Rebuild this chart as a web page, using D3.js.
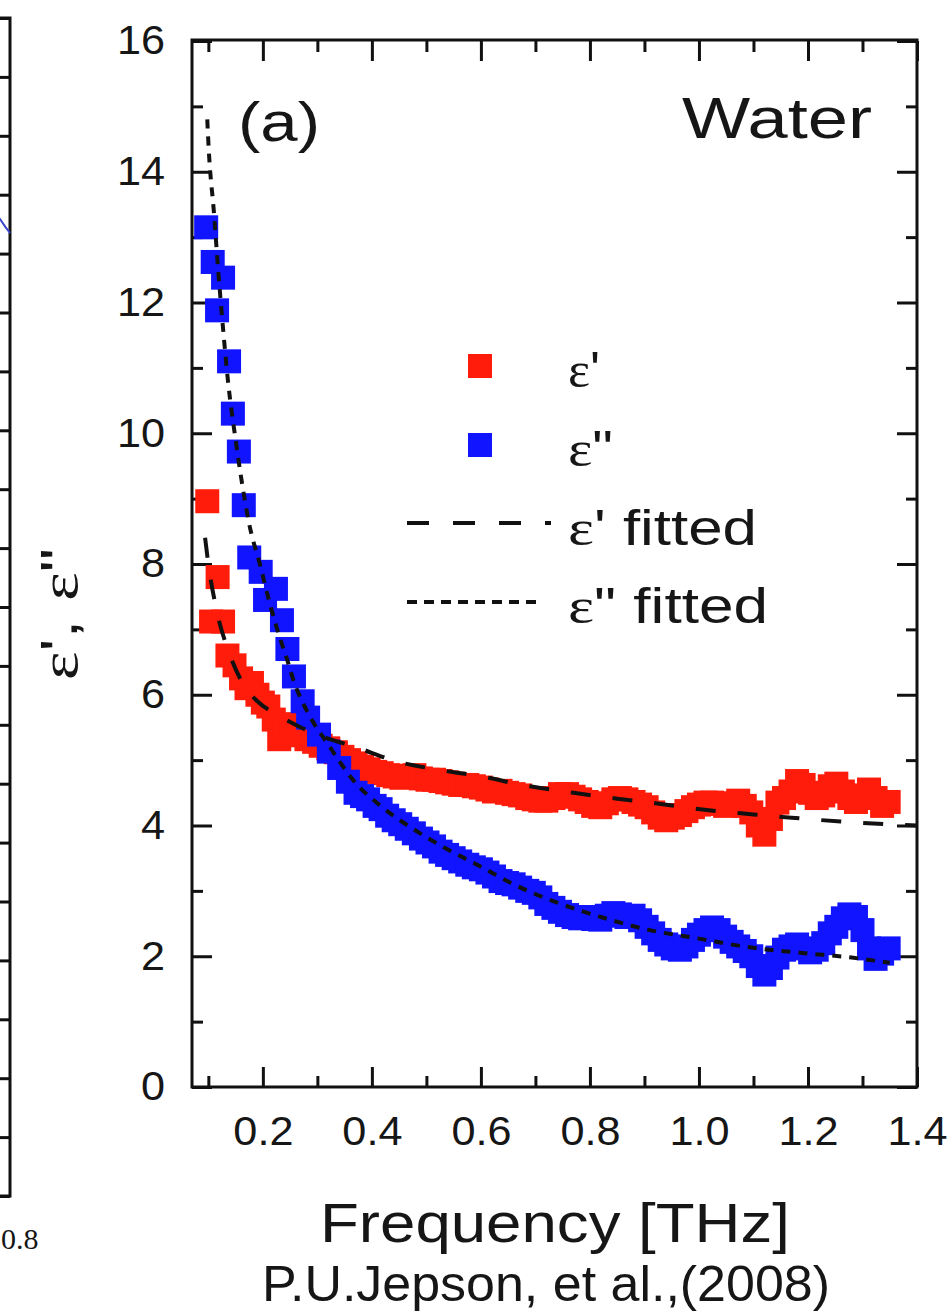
<!DOCTYPE html>
<html>
<head>
<meta charset="utf-8">
<script src="https://cdn.jsdelivr.net/npm/d3@7"></script>
<style>
  body { margin: 0; background: #fff; }
  text { font-family: "Liberation Sans", Arial, sans-serif; fill: #161616; }
  .serif { font-family: "Liberation Serif", "Times New Roman", serif; }
</style>
</head>
<body>
<svg id="chart" width="952" height="1314"></svg>
<script>
// measured points [frequency THz, value]
var epsRealPoints = [[0.098,8.96],[0.117,7.8],[0.105,7.12],[0.127,7.12],[0.135,6.6],[0.148,6.45],[0.16,6.25],[0.17,6.1],[0.18,6.18],[0.19,6.0],[0.2,5.88],[0.21,5.82],[0.22,5.62],[0.23,5.32],[0.24,5.55],[0.252,5.45],[0.266,5.38],[0.28,5.32],[0.294,5.28],[0.306,5.22],[0.32,5.18],[0.334,5.12],[0.346,5.05],[0.358,5.0],[0.37,4.95],[0.382,4.9],[0.394,4.86],[0.406,4.82],[0.418,4.8],[0.43,4.77],[0.442,4.75],[0.454,4.73],[0.466,4.76],[0.478,4.77],[0.49,4.72],[0.502,4.7],[0.514,4.7],[0.526,4.68],[0.538,4.66],[0.55,4.64],[0.562,4.62],[0.575,4.62],[0.587,4.6],[0.6,4.58],[0.612,4.55],[0.624,4.52],[0.636,4.53],[0.648,4.5],[0.66,4.48],[0.672,4.46],[0.685,4.42],[0.697,4.4],[0.709,4.38],[0.72,4.38],[0.733,4.42],[0.745,4.48],[0.758,4.48],[0.77,4.44],[0.782,4.4],[0.794,4.36],[0.806,4.3],[0.819,4.28],[0.831,4.34],[0.843,4.4],[0.855,4.42],[0.867,4.4],[0.88,4.36],[0.892,4.32],[0.904,4.28],[0.916,4.2],[0.928,4.12],[0.94,4.08],[0.952,4.12],[0.965,4.16],[0.977,4.22],[0.989,4.28],[1.0,4.32],[1.012,4.35],[1.024,4.35],[1.036,4.33],[1.048,4.3],[1.06,4.34],[1.072,4.38],[1.084,4.3],[1.096,4.2],[1.108,4.0],[1.12,3.86],[1.132,4.1],[1.144,4.35],[1.156,4.42],[1.168,4.52],[1.18,4.68],[1.192,4.62],[1.204,4.5],[1.216,4.42],[1.228,4.46],[1.24,4.6],[1.252,4.64],[1.264,4.52],[1.276,4.42],[1.288,4.36],[1.3,4.46],[1.312,4.55],[1.324,4.42],[1.336,4.3],[1.348,4.36]];

var epsLossPoints = [[0.096,13.15],[0.108,12.62],[0.127,12.38],[0.116,11.88],[0.138,11.1],[0.145,10.3],[0.156,9.72],[0.165,8.9],[0.175,8.1],[0.196,7.88],[0.204,7.45],[0.224,7.62],[0.235,7.14],[0.245,6.7],[0.257,6.28],[0.273,5.9],[0.283,5.65],[0.303,5.39],[0.321,5.13],[0.34,4.88],[0.356,4.67],[0.37,4.5],[0.382,4.45],[0.393,4.4],[0.405,4.3],[0.416,4.25],[0.428,4.15],[0.44,4.08],[0.452,4.02],[0.464,3.95],[0.477,3.88],[0.49,3.8],[0.502,3.74],[0.514,3.68],[0.526,3.6],[0.538,3.55],[0.55,3.5],[0.562,3.45],[0.575,3.4],[0.587,3.36],[0.6,3.33],[0.612,3.28],[0.624,3.22],[0.636,3.15],[0.648,3.12],[0.66,3.1],[0.672,3.05],[0.685,3.0],[0.697,2.97],[0.709,2.9],[0.72,2.8],[0.733,2.74],[0.745,2.68],[0.758,2.63],[0.77,2.6],[0.782,2.58],[0.794,2.6],[0.806,2.57],[0.819,2.56],[0.831,2.62],[0.843,2.66],[0.855,2.64],[0.867,2.6],[0.88,2.62],[0.892,2.55],[0.904,2.45],[0.916,2.35],[0.928,2.25],[0.94,2.18],[0.952,2.12],[0.965,2.1],[0.977,2.15],[0.989,2.25],[1.0,2.33],[1.012,2.4],[1.024,2.44],[1.036,2.4],[1.048,2.3],[1.06,2.22],[1.072,2.15],[1.084,2.08],[1.096,2.0],[1.108,1.85],[1.12,1.72],[1.132,1.82],[1.144,1.98],[1.156,2.1],[1.168,2.15],[1.18,2.18],[1.192,2.12],[1.204,2.06],[1.216,2.1],[1.228,2.2],[1.24,2.35],[1.252,2.45],[1.264,2.58],[1.276,2.64],[1.288,2.6],[1.3,2.4],[1.312,2.12],[1.324,1.96],[1.336,2.04],[1.348,2.12]];

// fitted curves
var fitRealPoints = [[0.094,8.4],[0.1,8.0],[0.115,7.3],[0.14,6.6],[0.165,6.15],[0.19,5.9],[0.23,5.68],[0.27,5.5],[0.32,5.33],[0.37,5.2],[0.45,4.97],[0.51,4.87],[0.6,4.75],[0.69,4.6],[0.77,4.5],[0.85,4.41],[0.93,4.33],[1.01,4.24],[1.1,4.17],[1.17,4.12],[1.26,4.06],[1.4,4.0]];
var fitLossPoints = [[0.098,14.8],[0.101,14.3],[0.11,13.4],[0.118,12.5],[0.127,11.6],[0.136,10.8],[0.15,9.9],[0.16,9.33],[0.174,8.65],[0.196,7.95],[0.211,7.45],[0.23,6.9],[0.246,6.5],[0.257,6.2],[0.275,5.85],[0.293,5.57],[0.319,5.25],[0.343,4.95],[0.367,4.68],[0.416,4.3],[0.477,3.94],[0.54,3.63],[0.6,3.37],[0.66,3.1],[0.74,2.82],[0.82,2.6],[0.91,2.4],[1.0,2.27],[1.09,2.14],[1.19,2.05],[1.28,1.98],[1.35,1.9]];

var xMajor = [0.2, 0.4, 0.6, 0.8, 1.0, 1.2, 1.4];
var xMinor = [0.1, 0.3, 0.5, 0.7, 0.9, 1.1, 1.3];
var yMajor = [0, 2, 4, 6, 8, 10, 12, 14, 16];
var yMinor = [1, 3, 5, 7, 9, 11, 13, 15];

// cut-off neighbour panel on the left edge
var neighborTicks = d3.range(0, 21);
var neighborCurve = [[0.793, 16.6], [0.797, 16.45], [0.8, 16.35]];

var red = '#ff1c0a', blue = '#1014ff';

var svg = d3.select('#chart');
svg.append('rect').attr('width', 952).attr('height', 1314).attr('fill', '#fff');

var x = d3.scaleLinear().domain([0.07, 1.4]).range([192, 917]);
var y = d3.scaleLinear().domain([0, 16]).range([1087, 41]);

function stretch(sel, k) {
  sel.each(function() {
    var w = this.getComputedTextLength();
    this.setAttribute('textLength', w * k);
    this.setAttribute('lengthAdjust', 'spacingAndGlyphs');
  });
}
function styleAxis(g) {
  g.select('.domain').remove();
  g.selectAll('line').attr('stroke', '#111').attr('stroke-width', 3);
  g.selectAll('text').attr('font-size', 40).attr('font-family', '"Liberation Sans", Arial, sans-serif').attr('fill', '#161616');
}

// neighbour panel bits
var ny = d3.scaleLinear().domain([0, 20]).range([1196, 18]);
var nx = d3.scaleLinear().domain([0.7, 0.8]).range([-140, 10]);
svg.append('g').attr('transform', 'translate(10,0)')
  .call(d3.axisLeft(ny).tickValues(neighborTicks).tickSize(14).tickFormat(''))
  .call(function(g) {
    g.select('.domain').remove();
    g.selectAll('line').attr('stroke', '#111').attr('stroke-width', 3);
  });
svg.append('path')
  .attr('d', 'M0,' + ny(20) + 'H' + nx(0.8) + 'V' + ny(0) + 'H0')
  .attr('fill', 'none').attr('stroke', '#111').attr('stroke-width', 3);
svg.append('path').datum(neighborCurve)
  .attr('d', d3.line().x(function(d) { return nx(d[0]); }).y(function(d) { return ny(d[1]); }))
  .attr('fill', 'none').attr('stroke', '#3a46d0').attr('stroke-width', 2);
svg.append('text').attr('class', 'serif')
  .attr('x', 1).attr('y', 1249).attr('text-anchor', 'start')
  .attr('font-size', 30).text('0.8');

// axes, ticks pointing inward
var gBottom = svg.append('g').attr('transform', 'translate(0,' + y(0) + ')')
  .call(d3.axisBottom(x).tickValues(xMajor).tickSize(-20).tickPadding(30).tickFormat(d3.format('.1f')));
styleAxis(gBottom);
stretch(gBottom.selectAll('text'), 1.08);
svg.append('g').attr('transform', 'translate(0,' + y(0) + ')')
  .call(d3.axisBottom(x).tickValues(xMinor).tickSize(-11).tickFormat('')).call(styleAxis);
svg.append('g').attr('transform', 'translate(0,' + y(16) + ')')
  .call(d3.axisTop(x).tickValues(xMajor).tickSize(-20).tickFormat('')).call(styleAxis);
svg.append('g').attr('transform', 'translate(0,' + y(16) + ')')
  .call(d3.axisTop(x).tickValues(xMinor).tickSize(-11).tickFormat('')).call(styleAxis);

var gLeft = svg.append('g').attr('transform', 'translate(' + x(0.07) + ',0)')
  .call(d3.axisLeft(y).tickValues(yMajor).tickSize(-20).tickPadding(27));
styleAxis(gLeft);
stretch(gLeft.selectAll('text'), 1.08);
svg.append('g').attr('transform', 'translate(' + x(0.07) + ',0)')
  .call(d3.axisLeft(y).tickValues(yMinor).tickSize(-11).tickFormat('')).call(styleAxis);
svg.append('g').attr('transform', 'translate(' + x(1.4) + ',0)')
  .call(d3.axisRight(y).tickValues(yMajor).tickSize(-20).tickFormat('')).call(styleAxis);
svg.append('g').attr('transform', 'translate(' + x(1.4) + ',0)')
  .call(d3.axisRight(y).tickValues(yMinor).tickSize(-11).tickFormat('')).call(styleAxis);

svg.append('rect')
  .attr('x', x(0.07)).attr('y', y(16) - 1)
  .attr('width', x(1.4) - x(0.07)).attr('height', y(0) - y(16) + 1)
  .attr('fill', 'none').attr('stroke', '#111').attr('stroke-width', 3);

// data squares
var sq = 24;
svg.append('g').selectAll('rect').data(epsRealPoints).join('rect')
  .attr('x', function(d) { return x(d[0]) - sq / 2; })
  .attr('y', function(d) { return y(d[1]) - sq / 2; })
  .attr('width', sq).attr('height', sq).attr('fill', red);
svg.append('g').selectAll('rect').data(epsLossPoints).join('rect')
  .attr('x', function(d) { return x(d[0]) - sq / 2; })
  .attr('y', function(d) { return y(d[1]) - sq / 2; })
  .attr('width', sq).attr('height', sq).attr('fill', blue);

// fitted curves
var line = d3.line()
  .x(function(d) { return x(d[0]); })
  .y(function(d) { return y(d[1]); })
  .curve(d3.curveMonotoneX);
svg.append('path').datum(fitRealPoints).attr('d', line)
  .attr('fill', 'none').attr('stroke', '#111').attr('stroke-width', 4)
  .attr('stroke-dasharray', '20,22');
svg.append('path').datum(fitLossPoints).attr('d', line)
  .attr('fill', 'none').attr('stroke', '#111').attr('stroke-width', 4)
  .attr('stroke-dasharray', '9,8');

// legend
var legend = svg.append('g');
legend.append('rect').attr('x', 468).attr('y', 354).attr('width', sq).attr('height', sq).attr('fill', red);
legend.append('rect').attr('x', 468).attr('y', 433).attr('width', sq).attr('height', sq).attr('fill', blue);
legend.append('line').attr('x1', 407).attr('x2', 551).attr('y1', 523).attr('y2', 523)
  .attr('stroke', '#111').attr('stroke-width', 4).attr('stroke-dasharray', '22,24');
legend.append('line').attr('x1', 407).attr('x2', 542).attr('y1', 602).attr('y2', 602)
  .attr('stroke', '#111').attr('stroke-width', 4).attr('stroke-dasharray', '10,7');

var legendRows = [
  {base: 387, mark: "'", rest: '', w: 32},
  {base: 466, mark: '"', rest: '', w: 45},
  {base: 545, mark: "'", rest: ' fitted', w: 189},
  {base: 623, mark: '"', rest: ' fitted', w: 200}
];
legendRows.forEach(function(r) {
  var t = legend.append('text').attr('x', 568).attr('y', r.base).attr('font-size', 50)
    .attr('textLength', r.w).attr('lengthAdjust', 'spacingAndGlyphs');
  t.append('tspan').attr('class', 'serif').text('ε');
  t.append('tspan').text(r.mark + r.rest);
});

// panel labels
svg.append('text').attr('x', 238).attr('y', 141).attr('font-size', 56)
  .attr('textLength', 82).attr('lengthAdjust', 'spacingAndGlyphs').text('(a)');
svg.append('text').attr('x', 682).attr('y', 138).attr('font-size', 57)
  .attr('textLength', 190).attr('lengthAdjust', 'spacingAndGlyphs').text('Water');

// axis titles
var yt = svg.append('text').attr('transform', 'translate(77,614) rotate(-90)')
  .attr('text-anchor', 'middle').attr('font-size', 52)
  .attr('textLength', 132).attr('lengthAdjust', 'spacingAndGlyphs');
yt.append('tspan').attr('class', 'serif').text('ε');
yt.append('tspan').text("', ");
yt.append('tspan').attr('class', 'serif').text('ε');
yt.append('tspan').text('"');

svg.append('text').attr('x', 555).attr('y', 1242).attr('text-anchor', 'middle')
  .attr('font-size', 56).attr('textLength', 470).attr('lengthAdjust', 'spacingAndGlyphs')
  .text('Frequency [THz]');
svg.append('text').attr('x', 546).attr('y', 1301).attr('text-anchor', 'middle')
  .attr('font-size', 50).attr('textLength', 568).attr('lengthAdjust', 'spacingAndGlyphs')
  .text('P.U.Jepson, et al.,(2008)');
</script>
</body>
</html>
